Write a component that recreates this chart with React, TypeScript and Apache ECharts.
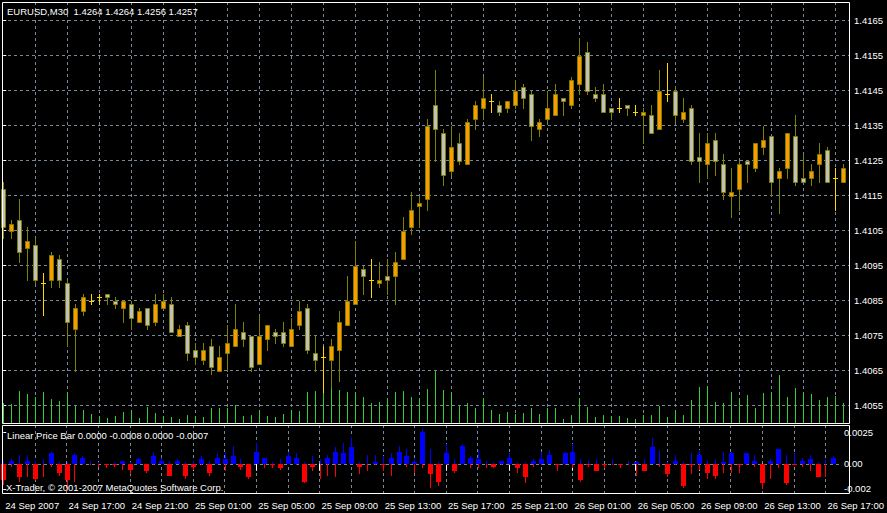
import React, { useEffect, useRef } from "react";
import * as echarts from "echarts";

const chartTitle = "EURUSD,M30  1.4264 1.4264 1.4256 1.4257";
const indicatorTitle = "Linear Price Bar 0.0000 -0.0008 0.0000 -0.0007";
const copyrightText = "X-Trader, © 2001-2007 MetaQuotes Software Corp.";

// 30-minute bars, 24 Sep 2007 13:00 .. 26 Sep 2007 17:30
const opens = [
  1.4117, 1.4105, 1.4108, 1.41, 1.4101, 1.409, 1.4091, 1.4097, 1.409, 1.4077,
  1.4082, 1.4085, 1.4086, 1.4087, 1.4085, 1.4083, 1.4084, 1.4079, 1.4083, 1.4079,
  1.4083, 1.4084, 1.4075, 1.4078, 1.4071, 1.4068, 1.4072, 1.4065, 1.407, 1.4072,
  1.4076, 1.4075, 1.4067, 1.4074, 1.4076, 1.4076, 1.4072, 1.4078, 1.4083, 1.407,
  1.4069, 1.4068, 1.4071, 1.4078, 1.4084, 1.4094, 1.4091, 1.409, 1.4092, 1.4092,
  1.4097, 1.4106, 1.4112, 1.4114, 1.4141, 1.4133, 1.4122, 1.413, 1.4124, 1.4137,
  1.414, 1.4142, 1.4141, 1.414, 1.4141, 1.4146, 1.4144, 1.4134, 1.4137, 1.4138,
  1.4143, 1.4141, 1.4147, 1.4156, 1.4144, 1.4144, 1.414, 1.414, 1.4141, 1.4139,
  1.4138, 1.4138, 1.4134, 1.4144, 1.4145, 1.4137, 1.414, 1.4126, 1.4124, 1.4131,
  1.4124, 1.4115, 1.4117, 1.4125, 1.4123, 1.4129, 1.4132, 1.412, 1.4123, 1.4132,
  1.412, 1.412, 1.4124, 1.4128, 1.412, 1.4119,
];
const highs = [
  1.4119, 1.4108, 1.4114, 1.4106, 1.4103, 1.4093, 1.4099, 1.4098, 1.4091, 1.4084,
  1.4087, 1.4087, 1.4087, 1.4087, 1.4086, 1.4085, 1.4085, 1.4083, 1.4083, 1.4087,
  1.4087, 1.4086, 1.4078, 1.4079, 1.4073, 1.4073, 1.4074, 1.4072, 1.4078, 1.4084,
  1.4079, 1.4075, 1.4081, 1.4078, 1.4077, 1.4079, 1.408, 1.4085, 1.4084, 1.4075,
  1.4072, 1.4074, 1.4082, 1.4092, 1.4102, 1.4095, 1.4097, 1.4096, 1.4097, 1.4099,
  1.4109, 1.4116, 1.4115, 1.4137, 1.4151, 1.4134, 1.4135, 1.4133, 1.4137, 1.4142,
  1.4149, 1.4144, 1.4142, 1.4142, 1.4148, 1.4147, 1.4145, 1.4137, 1.4145, 1.4147,
  1.4143, 1.4149, 1.416, 1.4159, 1.4146, 1.4147, 1.414, 1.4143, 1.4141, 1.4141,
  1.414, 1.4141, 1.4151, 1.4153, 1.4146, 1.4143, 1.4141, 1.4133, 1.4133, 1.4133,
  1.4127, 1.4123, 1.4125, 1.4125, 1.413, 1.4135, 1.4132, 1.4123, 1.4133, 1.4138,
  1.4127, 1.4124, 1.413, 1.4129, 1.4123, 1.4124,
];
const lows = [
  1.4103, 1.4103, 1.4096, 1.4091, 1.409, 1.4081, 1.4089, 1.4089, 1.4072, 1.4065,
  1.4081, 1.4084, 1.4084, 1.4084, 1.4083, 1.4079, 1.4077, 1.4079, 1.4077, 1.4078,
  1.4083, 1.4076, 1.4075, 1.4068, 1.4067, 1.4067, 1.4064, 1.4065, 1.4065, 1.4072,
  1.4072, 1.4065, 1.4067, 1.4071, 1.4073, 1.4072, 1.4072, 1.4077, 1.407, 1.4065,
  1.4059, 1.406, 1.4062, 1.4078, 1.4084, 1.4087, 1.4086, 1.4089, 1.4087, 1.4084,
  1.4097, 1.4104, 1.4106, 1.4111, 1.4125, 1.4118, 1.4121, 1.4124, 1.4124, 1.4134,
  1.4137, 1.4139, 1.4138, 1.4139, 1.414, 1.414, 1.4131, 1.4132, 1.4136, 1.4138,
  1.4138, 1.414, 1.4144, 1.4144, 1.4142, 1.4139, 1.4137, 1.4139, 1.4138, 1.4138,
  1.413, 1.4133, 1.4134, 1.4142, 1.4136, 1.4136, 1.4124, 1.4119, 1.412, 1.4121,
  1.4114, 1.4109, 1.4111, 1.4119, 1.4122, 1.4127, 1.4115, 1.411, 1.412, 1.4118,
  1.4119, 1.4118, 1.4119, 1.4119, 1.4111, 1.4119,
];
const closes = [
  1.4106, 1.4107, 1.4099, 1.4102, 1.4091, 1.409, 1.4098, 1.4091, 1.4079, 1.4083,
  1.4086, 1.4085, 1.4086, 1.4086, 1.4084, 1.4085, 1.408, 1.4082, 1.4078, 1.4084,
  1.4085, 1.4076, 1.4077, 1.407, 1.4069, 1.4071, 1.4066, 1.4069, 1.4073, 1.4077,
  1.4074, 1.4066, 1.4075, 1.4078, 1.4075, 1.4073, 1.4077, 1.4082, 1.4071, 1.4068,
  1.4069, 1.4072, 1.4079, 1.4085, 1.4095, 1.4092, 1.4091, 1.4091, 1.4091, 1.4096,
  1.4105, 1.4111, 1.4113, 1.4135, 1.4134, 1.4121, 1.4129, 1.4125, 1.4136, 1.4141,
  1.4143, 1.4142, 1.4139, 1.4142, 1.4145, 1.4143, 1.4135, 1.4136, 1.414, 1.4144,
  1.4142, 1.4148, 1.4155, 1.4145, 1.4143, 1.4139, 1.4139, 1.414, 1.414, 1.4139,
  1.4139, 1.4133, 1.4145, 1.4144, 1.4138, 1.4139, 1.4125, 1.4125, 1.413, 1.4125,
  1.4116, 1.4116, 1.4124, 1.4124, 1.413, 1.4131, 1.4119, 1.4122, 1.4133, 1.4119,
  1.4119, 1.4122, 1.4127, 1.4119, 1.412, 1.4123,
];
const volumes = [
  20, 19, 32, 29, 26, 31, 24, 22, 31, 17,
  13, 9, 7, 5, 7, 11, 13, 5, 16, 10,
  7, 6, 4, 8, 7, 6, 15, 15, 15, 18,
  7, 8, 13, 7, 6, 9, 13, 12, 31, 32,
  31, 34, 33, 31, 30, 26, 20, 21, 25, 31,
  32, 26, 25, 34, 52, 33, 31, 17, 20, 15,
  25, 13, 9, 11, 9, 10, 15, 9, 15, 15,
  4, 8, 25, 16, 6, 8, 7, 7, 5, 4,
  8, 8, 17, 6, 13, 8, 23, 36, 37, 21,
  20, 31, 25, 28, 15, 30, 31, 48, 26, 35,
  31, 29, 23, 26, 27, 20,
];

const priceTicks = [1.4055, 1.4065, 1.4075, 1.4085, 1.4095, 1.4105, 1.4115, 1.4125, 1.4135, 1.4145, 1.4155, 1.4165];
const timeLabels = [
  "24 Sep 2007", "24 Sep 17:00", "24 Sep 21:00", "25 Sep 01:00", "25 Sep 05:00",
  "25 Sep 09:00", "25 Sep 13:00", "25 Sep 17:00", "25 Sep 21:00", "26 Sep 01:00",
  "26 Sep 05:00", "26 Sep 09:00", "26 Sep 13:00", "26 Sep 17:00",
];
const timeLabelBars = [0, 8, 16, 24, 32, 40, 48, 56, 64, 72, 80, 88, 96, 104];
const gridBars = [4, 8, 12, 16, 20, 24, 28, 32, 36, 40, 44, 48, 52, 56, 60, 64, 68, 72, 76, 80, 84, 88, 92, 96, 100, 104];
const indLabelTexts = ["0.0025", "0.00", "-0.002"];
const indLabelLevels = [0.00209, 0, -0.00168];

const FONT = "'Liberation Sans', Arial, sans-serif";
const FS = 9.5;
const BULL = "#ff9900";
const BEAR = "#c0c0c0";
const WICK = "#808000";
const DOJI = "#ffd700";
const VOL = "#32cd32";
const GRIDC = "#778899";
const UPC = "#0000ff";
const DNC = "#ff0000";

const X_MIN = -0.1625;
const X_MAX = 105.7125;

const snap = (v: number) => Math.round(v) + 0.5;

export default function App() {
  const ref = useRef<HTMLDivElement>(null);
  useEffect(() => {
    const chart = echarts.init(ref.current!, null, { renderer: "svg" });
    const candleData = opens.map((o, i) => [i, o, closes[i], lows[i], highs[i]]);
    const volData = volumes.map((v, i) => [i, v]);
    const r4 = (v: number) => Math.round(v * 10000) / 10000;
    const indData = opens.map((o, i) => [i, r4(closes[i] - o), r4(highs[i] - o), r4(lows[i] - o)]);
    const gridLine = { color: GRIDC, width: 1, type: [3, 3] as any };
    const lblStyle = { color: "#fff", fontSize: FS, fontFamily: FONT };

    const option: any = {
      animation: false,
      backgroundColor: "#000",
      textStyle: { fontFamily: FONT },
      title: [
        { text: chartTitle, left: 7, top: 5, padding: 0, textStyle: { ...lblStyle, fontWeight: "normal", lineHeight: 12 } },
        { text: indicatorTitle, left: 7, top: 429, padding: 0, textStyle: { ...lblStyle, fontWeight: "normal", lineHeight: 12 } },
        { text: copyrightText, left: 6, top: 481, padding: 0, textStyle: { ...lblStyle, fontWeight: "normal", lineHeight: 12 } },
      ],
      grid: [
        { left: 2, top: 2, width: 847, height: 421 },
        { left: 2, top: 425, width: 847, height: 68 },
      ],
      xAxis: [
        {
          gridIndex: 0, type: "value", min: X_MIN, max: X_MAX, position: "bottom",
          axisLine: { show: false }, axisLabel: { show: false },
          axisTick: { show: false, customValues: gridBars },
          splitLine: { show: true, lineStyle: gridLine },
        },
        {
          gridIndex: 1, type: "value", min: X_MIN, max: X_MAX, position: "bottom",
          axisLine: { show: false },
          axisTick: { show: true, customValues: timeLabelBars, length: 7, lineStyle: { color: "#fff" } },
          axisLabel: {
            show: true, customValues: timeLabelBars, align: "left", margin: 7, padding: [0, 0, 0, 2],
            ...lblStyle,
            formatter: (v: number) => timeLabels[timeLabelBars.indexOf(Math.round(v))] ?? "",
          },
          splitLine: { show: false },
        },
        {
          gridIndex: 1, type: "value", min: X_MIN, max: X_MAX, position: "top",
          axisLine: { show: false }, axisLabel: { show: false },
          axisTick: { show: false, customValues: gridBars },
          splitLine: { show: true, lineStyle: gridLine },
        },
      ],
      yAxis: [
        {
          gridIndex: 0, type: "value", position: "right", min: 1.405, max: 1.41703,
          axisLine: { show: false },
          axisTick: { show: true, customValues: priceTicks, length: 3, lineStyle: { color: "#fff" } },
          axisLabel: { customValues: priceTicks, margin: 5, ...lblStyle, formatter: (v: number) => v.toFixed(4) },
          splitLine: { show: true, lineStyle: gridLine },
        },
        { gridIndex: 0, type: "value", position: "left", min: 0, max: 421, show: false },
        {
          gridIndex: 1, type: "value", position: "right", min: -0.00195, max: 0.00259,
          axisLine: { show: false },
          axisTick: { show: true, customValues: indLabelLevels, length: 3, lineStyle: { color: "#fff" } },
          axisLabel: {
            customValues: indLabelLevels, margin: 5, ...lblStyle,
            formatter: (v: number) => {
              let best = 0;
              indLabelLevels.forEach((l, k) => { if (Math.abs(l - v) < Math.abs(indLabelLevels[best] - v)) best = k; });
              return indLabelTexts[best];
            },
          },
          splitLine: { show: false },
        },
        {
          gridIndex: 1, type: "value", position: "left", min: -0.00195, max: 0.00259,
          axisLine: { show: false }, axisLabel: { show: false },
          axisTick: { show: false, customValues: [0] },
          splitLine: { show: true, lineStyle: gridLine },
        },
      ],
      series: [
        {
          type: "custom", name: "Volume", xAxisIndex: 0, yAxisIndex: 1, z: 1,
          data: volData, encode: { x: 0, y: 1 },
          renderItem: (_p: any, api: any) => {
            const i = api.value(0);
            const a = api.coord([i, 0]);
            const b = api.coord([i, api.value(1)]);
            const x = snap(a[0]);
            return { type: "line", shape: { x1: x, y1: Math.round(a[1]), x2: x, y2: Math.round(b[1]) }, style: { stroke: VOL, lineWidth: 1 } };
          },
        },
        {
          type: "custom", name: "EURUSD", xAxisIndex: 0, yAxisIndex: 0, z: 3,
          data: candleData, encode: { x: 0, y: [1, 2, 3, 4] },
          renderItem: (_p: any, api: any) => {
            const i = api.value(0);
            const o = api.value(1), c = api.value(2), l = api.value(3), h = api.value(4);
            const pO = api.coord([i, o]);
            const yC = api.coord([i, c])[1];
            const yL = api.coord([i, l])[1];
            const yH = api.coord([i, h])[1];
            const cx = snap(pO[0]);
            if (Math.abs(o - c) < 1e-7) {
              const y = snap(pO[1]);
              return {
                type: "group",
                children: [
                  { type: "line", shape: { x1: cx, y1: Math.round(yH), x2: cx, y2: Math.round(yL) + 1 }, style: { stroke: DOJI, lineWidth: 1 } },
                  { type: "line", shape: { x1: cx - 2.5, y1: y, x2: cx + 2.5, y2: y }, style: { stroke: DOJI, lineWidth: 1 } },
                ],
              };
            }
            const top = snap(Math.min(pO[1], yC));
            const bot = snap(Math.max(pO[1], yC));
            return {
              type: "group",
              children: [
                { type: "line", shape: { x1: cx, y1: Math.round(yH), x2: cx, y2: Math.round(yL) + 1 }, style: { stroke: WICK, lineWidth: 1 } },
                { type: "rect", shape: { x: cx - 2, y: top, width: 4, height: Math.max(bot - top, 1) }, style: { fill: c > o ? BULL : BEAR, stroke: WICK, lineWidth: 1 } },
              ],
            };
          },
        },
        {
          type: "custom", name: "Linear Price Bar", xAxisIndex: 1, yAxisIndex: 2, z: 3,
          data: indData, encode: { x: 0, y: [1, 2, 3] },
          renderItem: (_p: any, api: any) => {
            const i = api.value(0);
            const d = api.value(1), up = api.value(2), dn = api.value(3);
            const p0 = api.coord([i, 0]);
            const y0 = Math.round(p0[1]);
            const cx = snap(p0[0]);
            const children: any[] = [];
            if (up > 0) {
              const yU = Math.round(api.coord([i, up])[1]);
              children.push({ type: "line", shape: { x1: cx, y1: yU, x2: cx, y2: y0 }, style: { stroke: UPC, lineWidth: 1 } });
            }
            if (dn < 0) {
              const yN = Math.round(api.coord([i, dn])[1]);
              children.push({ type: "line", shape: { x1: cx, y1: y0, x2: cx, y2: yN }, style: { stroke: DNC, lineWidth: 1 } });
            }
            if (d !== 0) {
              const yD = Math.round(api.coord([i, d])[1]);
              const t = Math.min(y0, yD), b = Math.max(y0, yD);
              children.push({ type: "rect", shape: { x: cx - 2.5, y: t, width: 5, height: Math.max(b - t, 1) }, style: { fill: d > 0 ? UPC : DNC } });
            }
            return { type: "group", children };
          },
        },
      ],
      graphic: [
        { type: "rect", silent: true, z: 10, shape: { x: 2.5, y: 2.5, width: 847, height: 421 }, style: { fill: "none", stroke: "#fff", lineWidth: 1 } },
        { type: "rect", silent: true, z: 10, shape: { x: 2.5, y: 425.5, width: 847, height: 68 }, style: { fill: "none", stroke: "#fff", lineWidth: 1 } },
      ],
    };
    chart.setOption(option);
    return () => chart.dispose();
  }, []);
  return <div ref={ref} style={{ position: "fixed", left: 0, top: 0, width: 887, height: 513, background: "#000" }} />;
}
